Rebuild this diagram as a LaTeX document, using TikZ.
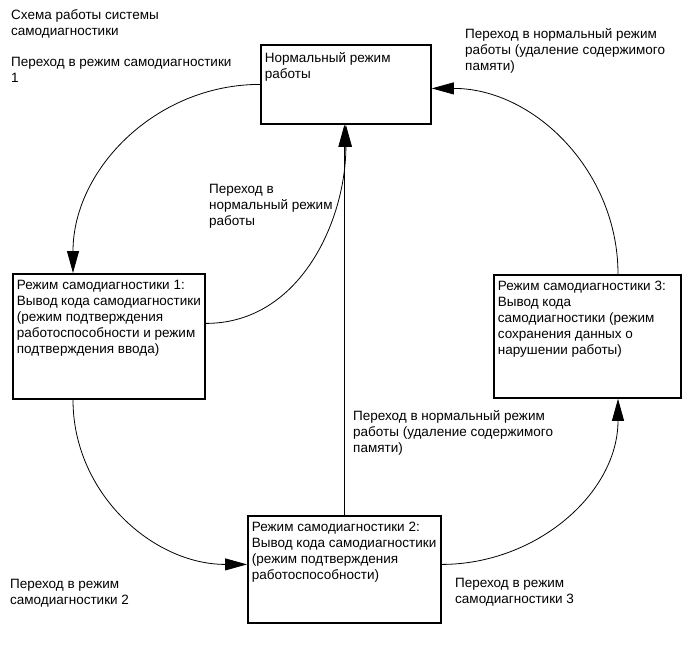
\documentclass[tikz,border=0pt]{standalone}
\usepackage{fontspec}
\setmainfont{Liberation Sans}
\usetikzlibrary{arrows.meta}

% box text, pinned to the top left corner
\newcommand{\modetext}[3]{\parbox[t][#1][t]{#2}{\raggedright\rule{0pt}{12pt}#3}}

\begin{document}
\begin{tikzpicture}[
    x=1pt, y=-1pt,
    font=\fontsize{13.5}{16}\selectfont,
    modebox/.style={rectangle, draw=black, line width=1.8pt, anchor=north west, inner xsep=4pt, inner ysep=4pt},
    arrow/.style={-{Triangle[length=22pt,width=12pt]}, line width=0.8pt},
    note/.style={anchor=base west, align=left, inner sep=0pt}
]
\useasboundingbox (0,0) rectangle (690,659);

% Nodes
\node[modebox] (norm) at (260,44) {\modetext{71pt}{162pt}{\rule{0pt}{14pt}Нормальный режим\\работы}};

\node[modebox] (m1) at (12,273) {\modetext{117pt}{184pt}{Режим самодиагностики 1:\\Вывод кода самодиагностики\\(режим подтверждения\\работоспособности и режим\\подтверждения ввода)}};

\node[modebox] (m2) at (247,515) {\modetext{99pt}{185pt}{Режим самодиагностики 2:\\Вывод кода самодиагностики\\(режим подтверждения\\работоспособности)}};

\node[modebox] (m3) at (493,274) {\modetext{115pt}{179pt}{Режим самодиагностики 3:\\Вывод кода\\самодиагностики (режим\\сохранения данных о\\нарушении работы)}};

% Arrows
\draw[arrow] (norm.west) to[out=180, in=90] ([xshift=61pt]m1.north west);
\draw[arrow] ([yshift=13pt]m1.east) to[out=0, in=-90] (norm.south);
\draw[arrow] (m2.north) -- (m2.north |- norm.south);
\draw[arrow] ([xshift=61pt]m1.south west) to[out=-90, in=180] ([yshift=5pt]m2.west);
\draw[arrow] ([yshift=5pt]m2.east) to[out=0, in=-90] ([xshift=125pt]m3.south west);
\draw[arrow] ([xshift=125pt]m3.north west) to[out=90, in=0] ([yshift=-4pt]norm.east);

% Labels (base = last line)
\node[note] (title) at (11,35) {Схема работы системы\\самодиагностики};
\node[note] (to1) at (11,82) {Переход в режим самодиагностики\\1};
\node[note] (back1) at (209,225) {Переход в\\нормальный режим\\работы};
\node[note] (back3) at (465,70) {Переход в нормальный режим\\работы (удаление содержимого\\памяти)};
\node[note] (back2) at (353,452) {Переход в нормальный режим\\работы (удаление содержимого\\памяти)};
\node[note] (to2) at (10,604) {Переход в режим\\самодиагностики 2};
\node[note] (to3) at (455,603) {Переход в режим\\самодиагностики 3};

\end{tikzpicture}
\end{document}
